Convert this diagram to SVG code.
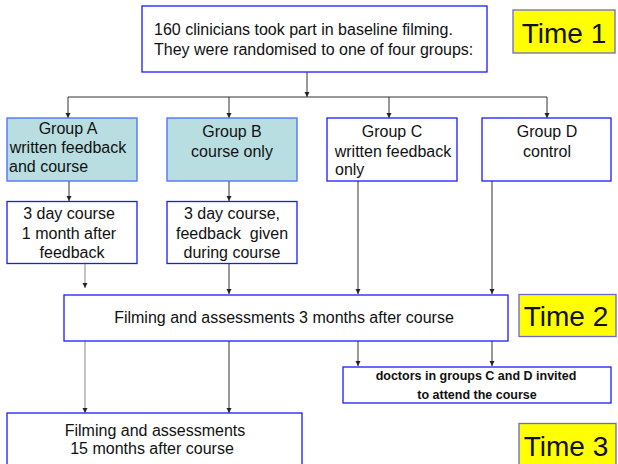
<svg xmlns="http://www.w3.org/2000/svg" width="618" height="464" viewBox="0 0 618 464">
<style>
.box{fill:#fff;stroke:#1a1aff;stroke-width:1.3}
.grp{fill:#b8dee2;stroke:#4a6cff;stroke-width:1.3}
.time{fill:#ffff00;stroke:#6a6acc;stroke-width:1.3}
text{font-family:"Liberation Sans",Arial,sans-serif;font-size:16px;fill:#111}
.c{text-anchor:middle}
.t{font-size:28px;text-anchor:middle}
.b{font-size:12.5px;font-weight:bold;text-anchor:middle}
.ln{stroke:#333;stroke-width:1;fill:none}
.lg{stroke:#888;stroke-width:1;fill:none}
</style>
<defs>
<marker id="ah" markerUnits="userSpaceOnUse" markerWidth="6" markerHeight="6" refX="5" refY="3" orient="auto">
<path d="M0,0.5 L5,3 L0,5.5 z" fill="#222"/>
</marker>
</defs>
<rect width="618" height="464" fill="#fff"/>
<g id="connectors">
<path class="ln" d="M307,72 V97" marker-end="url(#ah)"/>
<path class="ln" d="M68,97 H547"/>
<path class="ln" d="M68,97 V118" marker-end="url(#ah)"/>
<path class="ln" d="M229,97 V118" marker-end="url(#ah)"/>
<path class="ln" d="M389,97 V118" marker-end="url(#ah)"/>
<path class="ln" d="M547,97 V118" marker-end="url(#ah)"/>
<path class="ln" d="M69,181 V201" marker-end="url(#ah)"/>
<path class="ln" d="M229,181 V201" marker-end="url(#ah)"/>
<path class="lg" d="M85,264 V288" marker-end="url(#ah)"/>
<path class="ln" d="M229,264 V294" marker-end="url(#ah)"/>
<path class="ln" d="M358,181 V294" marker-end="url(#ah)"/>
<path class="ln" d="M492,181 V294" marker-end="url(#ah)"/>
<path class="lg" d="M85,341 V413" marker-end="url(#ah)"/>
<path class="ln" d="M229,341 V413" marker-end="url(#ah)"/>
<path class="ln" d="M358,341 V366" marker-end="url(#ah)"/>
<path class="ln" d="M492,341 V366" marker-end="url(#ah)"/>
</g>
<g id="start">
<rect class="box" x="142" y="6" width="345" height="66"/>
<text x="154" y="35">160 clinicians took part in baseline filming.</text>
<text x="154" y="55">They were randomised to one of four groups:</text>
</g>
<g id="time1">
<rect class="time" x="513" y="10" width="102" height="43"/>
<text class="t" x="564" y="43">Time 1</text>
</g>
<g id="groupA">
<rect class="grp" x="7" y="118" width="130" height="63"/>
<text class="c" x="68" y="133.5">Group A</text>
<text class="c" x="68" y="152.5">written feedback</text>
<text x="9" y="171.5">and course</text>
</g>
<g id="groupB">
<rect class="grp" x="167" y="118" width="130" height="63"/>
<text class="c" x="232" y="136.5">Group B</text>
<text class="c" x="232" y="156.5">course only</text>
</g>
<g id="groupC">
<rect class="box" x="327" y="118" width="130" height="63"/>
<text class="c" x="392" y="136.5">Group C</text>
<text class="c" x="393" y="156.5">written feedback</text>
<text x="335" y="175">only</text>
</g>
<g id="groupD">
<rect class="box" x="482" y="118" width="129" height="63"/>
<text class="c" x="547" y="136.5">Group D</text>
<text class="c" x="547" y="156.5">control</text>
</g>
<g id="courseA">
<rect class="box" x="7" y="201.5" width="130" height="62"/>
<text class="c" x="69" y="219">3 day course</text>
<text class="c" x="69" y="238.5">1 month after</text>
<text class="c" x="72" y="258">feedback</text>
</g>
<g id="courseB">
<rect class="box" x="167" y="201.5" width="130" height="62"/>
<text class="c" x="232" y="219">3 day course,</text>
<text class="c" x="232" y="238.5" xml:space="preserve">feedback  given</text>
<text class="c" x="232" y="258">during course</text>
</g>
<g id="film3">
<rect class="box" x="64" y="295" width="444" height="46"/>
<text class="c" x="284" y="323">Filming and assessments 3 months after course</text>
</g>
<g id="time2">
<rect class="time" x="519" y="294.5" width="97" height="42"/>
<text class="t" x="566" y="326">Time 2</text>
</g>
<g id="invite">
<rect class="box" x="343" y="367" width="268" height="36"/>
<text class="b" x="476" y="380">doctors in groups C and D invited</text>
<text class="b" x="477" y="398.5">to attend the course</text>
</g>
<g id="film15">
<rect class="box" x="7" y="413" width="295" height="52"/>
<text class="c" x="155" y="436">Filming and assessments</text>
<text class="c" x="152" y="454">15 months after course</text>
</g>
<g id="time3">
<rect class="time" x="519" y="423.5" width="97" height="42"/>
<text class="t" x="566" y="456">Time 3</text>
</g>
</svg>
